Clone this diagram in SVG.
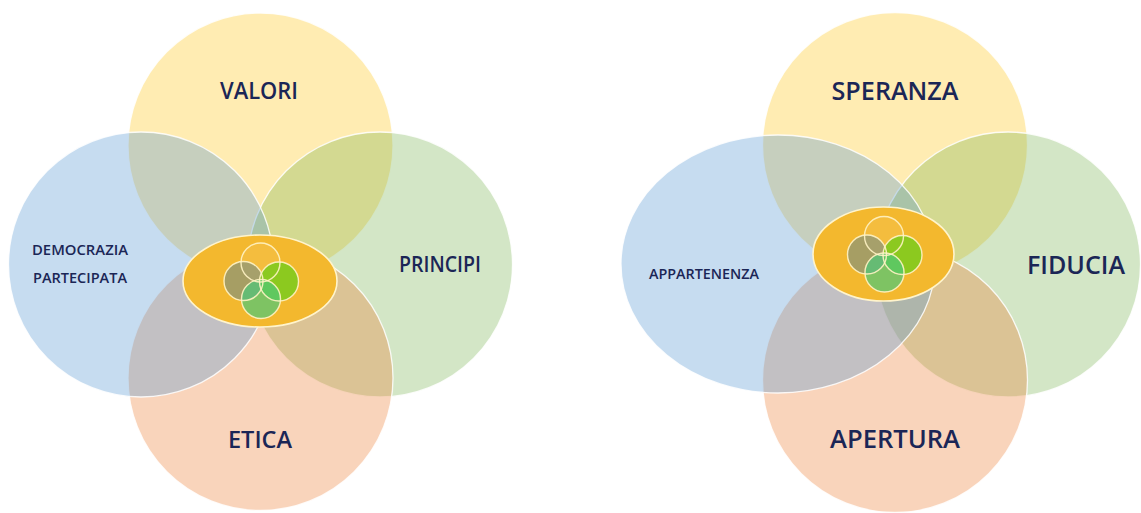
<svg xmlns="http://www.w3.org/2000/svg" xmlns:xlink="http://www.w3.org/1999/xlink" width="1141" height="513" viewBox="0 0 1141 513">
  <style>
    .y{fill:#FFC000;fill-opacity:.3}
    .g{fill:#70AD47;fill-opacity:.31}
    .o{fill:#ED7D31;fill-opacity:.33}
    .b{fill:#5B9BD5;fill-opacity:.35}
    .big{stroke:#fff;stroke-width:1.3;stroke-opacity:.85}
    .core{fill:#F3B82E;stroke:#FFF4CC;stroke-width:1.6}
    .ring{fill:none;stroke:#FFF3C4;stroke-width:1.4;stroke-opacity:.9}
    .lbl{font-family:"Open Sans","Liberation Sans",sans-serif;font-weight:600;fill:#1B2656;text-anchor:middle}
  </style>
  <defs>
    <!-- four small overlapping rings, centred on 0,0 -->
    <g id="cluster">
      <circle cx="0" cy="-18.5" r="19.5" fill="#fff" fill-opacity=".08"/>
      <circle cx="-17" cy="0" r="19.5" fill="#6F8C8C" fill-opacity=".58"/>
      <circle cx="18.5" cy="0.5" r="19.5" fill="#86C91F" fill-opacity=".95"/>
      <circle cx="0.5" cy="18" r="19.5" fill="#4CC87A" fill-opacity=".7"/>
      <circle class="ring" cx="0" cy="-18.5" r="19.5"/>
      <circle class="ring" cx="-17" cy="0" r="19.5"/>
      <circle class="ring" cx="18.5" cy="0.5" r="19.5"/>
      <circle class="ring" cx="0.5" cy="18" r="19.5"/>
    </g>
  </defs>
  <rect width="1141" height="513" fill="#fff"/>

  <!-- left flower -->
  <g id="valori"><circle class="y big" cx="260.5" cy="145.5" r="132.5"/></g>
  <g id="principi"><circle class="g big" cx="380" cy="264.5" r="132.5"/></g>
  <g id="etica"><circle class="o big" cx="260.5" cy="378" r="132.5"/></g>
  <g id="democrazia"><circle class="b big" cx="141" cy="264.5" r="132.5"/></g>
  <g id="core-left">
    <ellipse class="core" cx="260" cy="281" rx="77" ry="46"/>
    <use xlink:href="#cluster" transform="translate(260.5 281)"/>
  </g>
  <g id="labels-left">
    <text class="lbl" x="259" y="99" font-size="24" textLength="78" lengthAdjust="spacingAndGlyphs">VALORI</text>
    <text class="lbl" x="80" y="255" font-size="14" textLength="96" lengthAdjust="spacingAndGlyphs">DEMOCRAZIA</text>
    <text class="lbl" x="80" y="283" font-size="14" textLength="94" lengthAdjust="spacingAndGlyphs">PARTECIPATA</text>
    <text class="lbl" x="440" y="272" font-size="21" textLength="82" lengthAdjust="spacingAndGlyphs">PRINCIPI</text>
    <text class="lbl" x="260" y="448" font-size="24" textLength="64" lengthAdjust="spacingAndGlyphs">ETICA</text>
  </g>

  <!-- right flower -->
  <g id="speranza"><circle class="y big" cx="895" cy="145" r="132.5"/></g>
  <g id="fiducia"><circle class="g big" cx="1008" cy="264.5" r="132.5"/></g>
  <g id="apertura"><circle class="o big" cx="895" cy="380" r="132.5"/></g>
  <g id="appartenenza"><ellipse class="b big" cx="778" cy="264" rx="157" ry="129"/></g>
  <g id="core-right">
    <ellipse class="core" cx="883.5" cy="254" rx="70.5" ry="47"/>
    <use xlink:href="#cluster" transform="translate(884 254.5)"/>
  </g>
  <g id="labels-right">
    <text class="lbl" x="895" y="100" font-size="25" textLength="127" lengthAdjust="spacingAndGlyphs">SPERANZA</text>
    <text class="lbl" x="704" y="279" font-size="14" textLength="110" lengthAdjust="spacingAndGlyphs">APPARTENENZA</text>
    <text class="lbl" x="1076" y="274" font-size="25" textLength="98" lengthAdjust="spacingAndGlyphs">FIDUCIA</text>
    <text class="lbl" x="895" y="448" font-size="25" textLength="130" lengthAdjust="spacingAndGlyphs">APERTURA</text>
  </g>
</svg>
